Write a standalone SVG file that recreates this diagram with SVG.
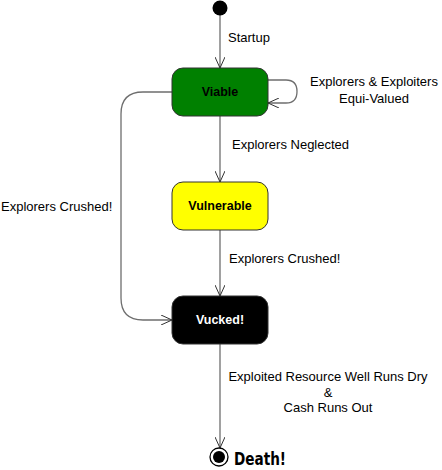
<svg xmlns="http://www.w3.org/2000/svg" width="442" height="470" viewBox="0 0 442 470">
<defs>
<style>
.st{stroke:#333;stroke-width:1}
.lbl{font-family:"Liberation Sans",Arial,sans-serif;font-size:13px;fill:#000}
.nm{font-family:"Liberation Sans",Arial,sans-serif;font-size:12.5px;font-weight:bold;text-anchor:middle}
.edge{fill:none;stroke:#6e6e6e;stroke-width:1.3}
</style>
<marker id="arr" viewBox="0 0 12 10" refX="11" refY="5" markerWidth="12" markerHeight="10" markerUnits="userSpaceOnUse" orient="auto">
<path d="M0,0 L11,5 L0,10" fill="none" stroke="#333" stroke-width="1"/>
</marker>
</defs>
<rect width="442" height="470" fill="#fff"/>
<g id="connectors">
<path class="edge" d="M220,15 V68" marker-end="url(#arr)"/>
<path class="edge" d="M268,80 H286 Q297,80 297,91.5 Q297,103 286,103 H268" marker-end="url(#arr)"/>
<path class="edge" d="M220,116 V182" marker-end="url(#arr)"/>
<path class="edge" d="M220,230 V296" marker-end="url(#arr)"/>
<path class="edge" d="M172,92 H143 Q121,92 121,114 V298 Q121,320 143,320 H172" marker-end="url(#arr)"/>
<path class="edge" d="M220,344 V448" marker-end="url(#arr)"/>
<text class="lbl" x="228" y="42">Startup</text>
<text class="lbl" x="374" y="86" text-anchor="middle">Explorers &amp; Exploiters</text>
<text class="lbl" x="374" y="103" text-anchor="middle">Equi-Valued</text>
<text class="lbl" x="232" y="149">Explorers Neglected</text>
<text class="lbl" x="1" y="211">Explorers Crushed!</text>
<text class="lbl" x="229" y="263">Explorers Crushed!</text>
<text class="lbl" x="328" y="381" text-anchor="middle">Exploited Resource Well Runs Dry</text>
<text class="lbl" x="328" y="397" text-anchor="middle">&amp;</text>
<text class="lbl" x="328" y="412" text-anchor="middle">Cash Runs Out</text>
</g>
<g id="start">
<circle cx="220" cy="8" r="7.5" fill="#000"/>
</g>
<g id="viable">
<rect class="st" x="172" y="68" width="96" height="48" rx="11" fill="#008000"/>
<text class="nm" x="220" y="96" fill="#000">Viable</text>
</g>
<g id="vulnerable">
<rect class="st" x="172" y="182" width="96" height="48" rx="11" fill="#ffff00"/>
<text class="nm" x="220" y="210" fill="#000">Vulnerable</text>
</g>
<g id="vucked">
<rect class="st" x="172" y="296" width="96" height="48" rx="11" fill="#000"/>
<text class="nm" x="220" y="324" fill="#fff">Vucked!</text>
</g>
<g id="death">
<circle cx="219" cy="457" r="9" fill="#fff" stroke="#000" stroke-width="1.3"/>
<circle cx="219" cy="457" r="6" fill="#000"/>
<text x="234" y="465" font-family="'DejaVu Sans Condensed','DejaVu Sans',sans-serif" font-stretch="condensed" font-weight="bold" font-size="18" textLength="52" lengthAdjust="spacingAndGlyphs" fill="#000">Death!</text>
</g>
</svg>
